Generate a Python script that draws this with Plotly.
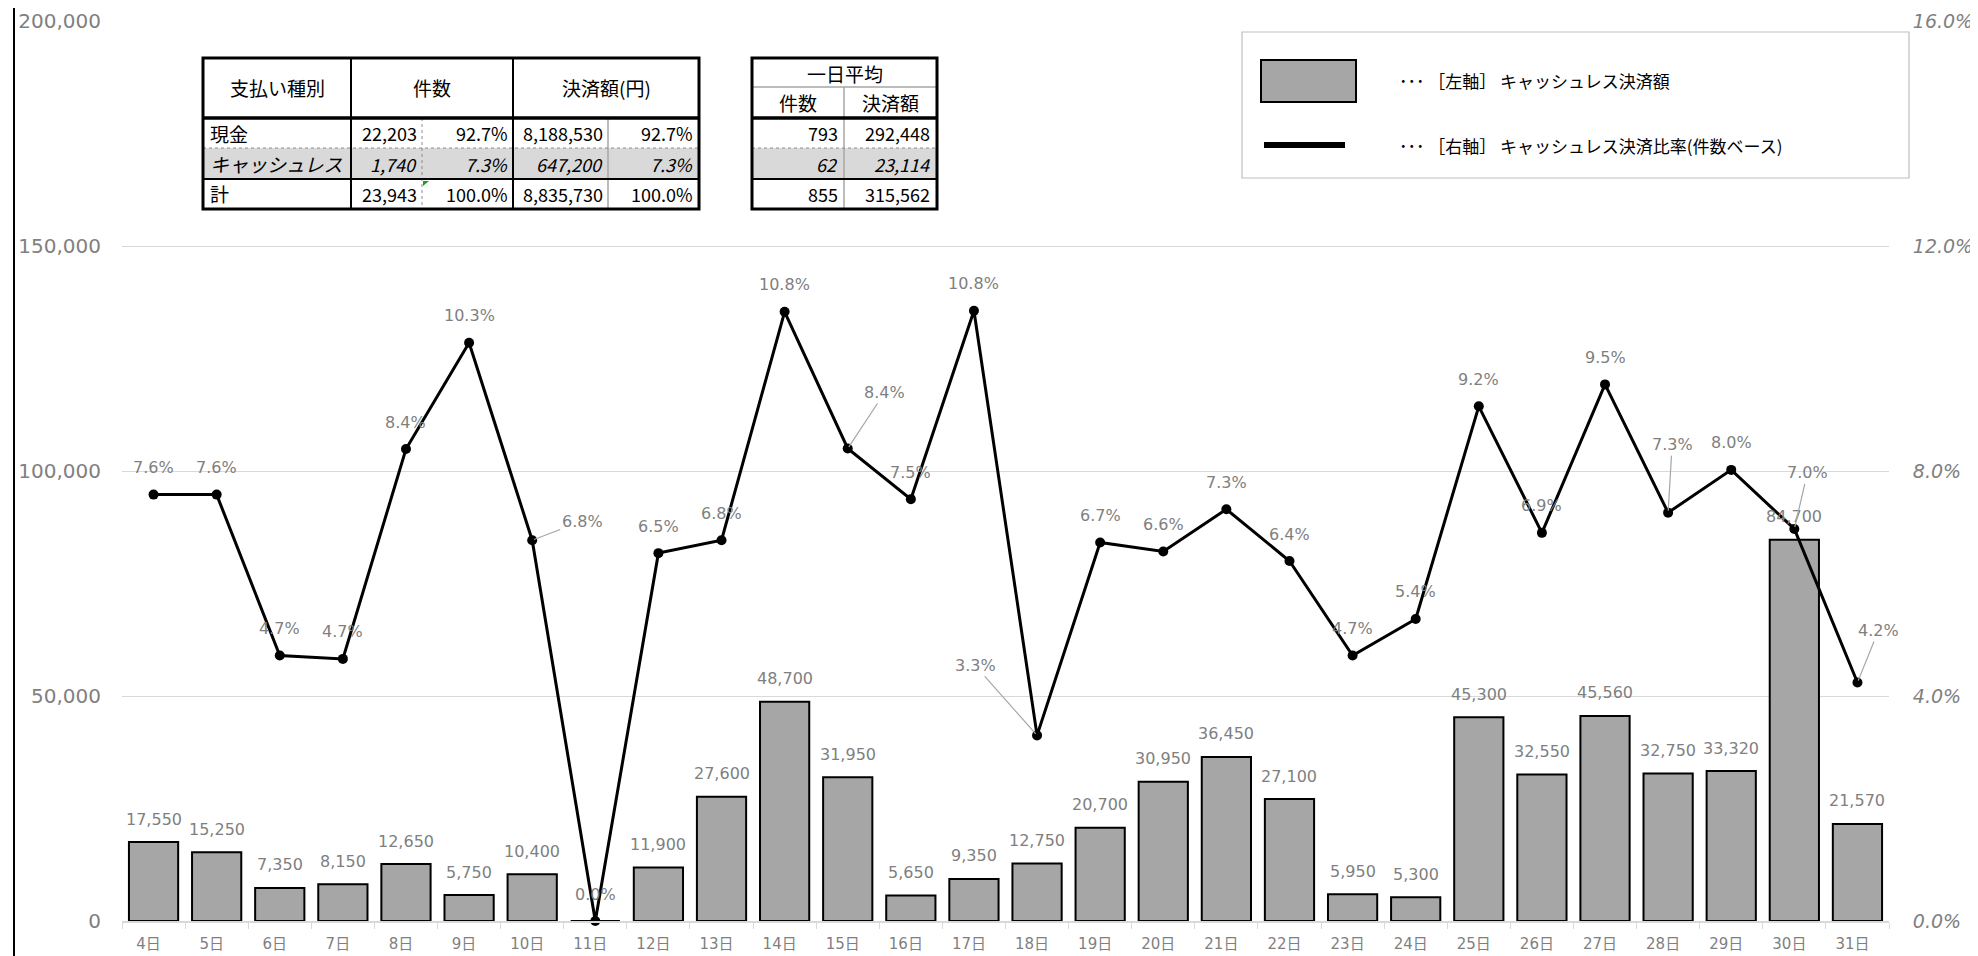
import plotly.graph_objects as go

# ---------------- data ----------------
days = ["4日", "5日", "6日", "7日", "8日", "9日", "10日", "11日", "12日", "13日", "14日", "15日",
        "16日", "17日", "18日", "19日", "20日", "21日", "22日", "23日", "24日", "25日", "26日",
        "27日", "28日", "29日", "30日", "31日"]
cashless_amount = [17550, 15250, 7350, 8150, 12650, 5750, 10400, 0, 11900, 27600, 48700, 31950,
                   5650, 9350, 12750, 20700, 30950, 36450, 27100, 5950, 5300, 45300, 32550,
                   45560, 32750, 33320, 84700, 21570]
cashless_ratio = [0.0758, 0.0758, 0.0472, 0.0466, 0.0839, 0.1028, 0.0677, 0.0, 0.0654, 0.0677,
                  0.1083, 0.0840, 0.0750, 0.1085, 0.0330, 0.0673, 0.0657, 0.0732, 0.0640, 0.0472,
                  0.0537, 0.0915, 0.0690, 0.0954, 0.0726, 0.0802, 0.0697, 0.0424]

left_ticks = [0, 50000, 100000, 150000, 200000]
right_ticks = [0.0, 0.04, 0.08, 0.12, 0.16]

table_headers = ["支払い種別", "件数", "決済額(円)"]
pay_types = ["現金", "キャッシュレス", "計"]
pay_counts = [22203, 1740, 23943]
pay_amounts = [8188530, 647200, 8835730]
avg_title = "一日平均"
avg_headers = ["件数", "決済額"]
avg_counts = [793, 62, 855]
avg_amounts = [292448, 23114, 315562]

legend_texts = ["･･･ ［左軸］ キャッシュレス決済額", "･･･ ［右軸］ キャッシュレス決済比率(件数ベース)"]

# ---------------- geometry helpers ----------------
W, H = 1978, 956
ML, MR, MT, MB = 114, 97, 13, 43
PW, PH = W - ML - MR, H - MT - MB


def px(x):
    return (x - ML) / PW


def py(y):
    return (H - MB - y) / PH


GREY_TXT = "#7f7f7f"
JP = "Noto Sans CJK JP"
DV = "DejaVu Sans"

fig = go.Figure()
fig.add_trace(go.Bar(
    x=days, y=cashless_amount, marker=dict(color="#a6a6a6", line=dict(color="black", width=2)),
    yaxis="y", hoverinfo="skip", showlegend=False))
fig.add_trace(go.Scatter(
    x=days, y=cashless_ratio, yaxis="y2", mode="lines+markers",
    line=dict(color="black", width=3), marker=dict(color="black", size=10),
    hoverinfo="skip", showlegend=False, cliponaxis=False))

annotations = []
shapes = []

# bar data labels
for d, v in zip(days, cashless_amount):
    if v > 0:
        annotations.append(dict(x=d, y=v, xref="x", yref="y", text=f"{v:,}", showarrow=False,
                                yshift=23, font=dict(family=DV, size=16, color=GREY_TXT)))

# line data labels (label offsets in pixels for the moved ones)
leader = {"10日": (50, -19), "15日": (37, -56), "18日": (-62, -70), "28日": (4, -68),
          "30日": (13, -56), "31日": (21, -52)}
for d, v in zip(days, cashless_ratio):
    txt = f"{v * 100:.1f}%"
    if d in leader:
        ax, ay = leader[d]
        annotations.append(dict(x=d, y=v, xref="x", yref="y2", text=txt, showarrow=True,
                                ax=ax, ay=ay, arrowhead=0, arrowwidth=1.2, arrowcolor="#a6a6a6",
                                standoff=2, font=dict(family=DV, size=16, color=GREY_TXT)))
    else:
        annotations.append(dict(x=d, y=v, xref="x", yref="y2", text=txt, showarrow=False,
                                yshift=27, font=dict(family=DV, size=16, color=GREY_TXT)))


def line(x0, y0, x1, y1, color="black", width=1, dash="solid"):
    shapes.append(dict(type="line", xref="paper", yref="paper", x0=px(x0), y0=py(y0),
                       x1=px(x1), y1=py(y1), line=dict(color=color, width=width, dash=dash),
                       layer="above"))


def rect(x0, y0, x1, y1, fill, color="black", width=0):
    shapes.append(dict(type="rect", xref="paper", yref="paper", x0=px(x0), y0=py(y1),
                       x1=px(x1), y1=py(y0), fillcolor=fill,
                       line=dict(color=color, width=width), layer="above"))


def text(x, y, s, anchor="center", size=18, italic=False, color="black"):
    annotations.append(dict(x=px(x), y=py(y), xref="paper", yref="paper", text=s,
                            showarrow=False, xanchor=anchor, yanchor="middle",
                            font=dict(family=JP, size=size, color=color,
                                      style="italic" if italic else "normal")))


# frame lines of the chart object
line(6, 0, 6, H, width=2)
line(1963, 0, 1963, H, width=2)

# ---------------- table 1 ----------------
TL, C1, C2A, C2, C3A, TR = 195, 343, 414, 505, 600, 691
TT, TH, R1, R2, TB = 50, 110, 140, 171, 201
rect(TL, TT, TR, TB, "white")
rect(TL, R1, TR, R2, "#d9d9d9")
line(C2A, TH, C2A, TB, color="#8c8c8c", width=1, dash="dot")
line(C3A, TH, C3A, TB, color="#a6a6a6", width=1.5)
line(TL, R1, TR, R1, color="#8c8c8c", width=1, dash="dot")
line(TL, R2, TR, R2, width=2)
line(C1, TT, C1, TB, width=2)
line(C2, TT, C2, TB, width=2)
line(TL, TH, TR, TH, width=3.5)
rect(TL, TT, TR, TB, "rgba(0,0,0,0)", color="black", width=3)
shapes.append(dict(type="path", xref="paper", yref="paper", layer="above",
                   path=f"M {px(C2A+1)} {py(R2+2)} L {px(C2A+7)} {py(R2+2)} L {px(C2A+1)} {py(R2+7)} Z",
                   fillcolor="#1e9e1e", line=dict(width=0)))

text((TL + C1) / 2, (TT + TH) / 2, table_headers[0], size=19)
text((C1 + C2) / 2, (TT + TH) / 2, table_headers[1], size=19)
text((C2 + TR) / 2, (TT + TH) / 2, table_headers[2], size=19)
row_y = [(TH + R1) / 2, (R1 + R2) / 2, (R2 + TB) / 2]
tot_c, tot_a = pay_counts[-1], pay_amounts[-1]
for i in range(3):
    it = (i == 1)
    text(TL + 5, row_y[i], pay_types[i], anchor="left", italic=it, size=19)
    text(C2A - 3, row_y[i], f"{pay_counts[i]:,}", anchor="right", italic=it)
    text(C2 - 3, row_y[i], f"{pay_counts[i] / tot_c * 100:.1f}%", anchor="right", italic=it)
    text(C3A - 3, row_y[i], f"{pay_amounts[i]:,}", anchor="right", italic=it)
    text(TR - 4, row_y[i], f"{pay_amounts[i] / tot_a * 100:.1f}%", anchor="right", italic=it)

# ---------------- table 2 ----------------
AL, AC, AR = 744, 836, 929
AH1 = 79
rect(AL, TT, AR, TB, "white")
rect(AL, R1, AR, R2, "#d9d9d9")
line(AL, AH1, AR, AH1, color="#a6a6a6", width=1.5)
line(AC, AH1, AC, TB, color="#a6a6a6", width=1.5)
line(AL, R1, AR, R1, color="#8c8c8c", width=1, dash="dot")
line(AL, R2, AR, R2, width=2)
line(AL, TH, AR, TH, width=3.5)
rect(AL, TT, AR, TB, "rgba(0,0,0,0)", color="black", width=3)
text((AL + AR) / 2, (TT + AH1) / 2 + 1, avg_title, size=19)
text((AL + AC) / 2, (AH1 + TH) / 2, avg_headers[0], size=19)
text((AC + AR) / 2, (AH1 + TH) / 2, avg_headers[1], size=19)
for i in range(3):
    it = (i == 1)
    text(AC - 4, row_y[i], f"{avg_counts[i]:,}", anchor="right", italic=it)
    text(AR - 5, row_y[i], f"{avg_amounts[i]:,}", anchor="right", italic=it)

# ---------------- legend box ----------------
rect(1234, 24, 1901, 170, "white", color="#bfbfbf", width=1.2)
rect(1253, 52, 1348, 94, "#a6a6a6", color="black", width=2)
line(1256, 137, 1337, 137, width=6)
text(1389, 73, legend_texts[0], anchor="left", size=17)
text(1389, 137, legend_texts[1], anchor="left", size=17)

fig.update_layout(
    width=W, height=H, margin=dict(l=ML, r=MR, t=MT, b=MB, autoexpand=False),
    paper_bgcolor="white", plot_bgcolor="white", bargap=0.22, showlegend=False,
    xaxis=dict(type="category", range=[-0.5, len(days) - 0.5], showline=True,
               linecolor="#d9d9d9", linewidth=1.5, ticks="outside", tickson="boundaries",
               ticklen=6, tickcolor="#d9d9d9", showgrid=False,
               tickfont=dict(family="DejaVu Sans, Noto Sans CJK JP", size=15, color=GREY_TXT),
               ticklabelstandoff=8, ticklabelshift=-5),
    yaxis=dict(range=[0, 200000], tickvals=left_ticks, tickformat=",", showgrid=True,
               gridcolor="#d9d9d9", gridwidth=1.2, zeroline=False, showline=False,
               tickfont=dict(family=DV, size=20, color="#808080"), ticklabelstandoff=20),
    yaxis2=dict(range=[0, 0.16], tickvals=right_ticks, tickformat=".1%", overlaying="y",
                side="right", showgrid=False, zeroline=False, showline=False,
                ticks="outside", ticklen=19, tickcolor="rgba(0,0,0,0)",
                tickfont=dict(family=DV, size=19, color="#808080", style="italic")),
    annotations=annotations, shapes=shapes,
)

fig.write_html("out.html")
